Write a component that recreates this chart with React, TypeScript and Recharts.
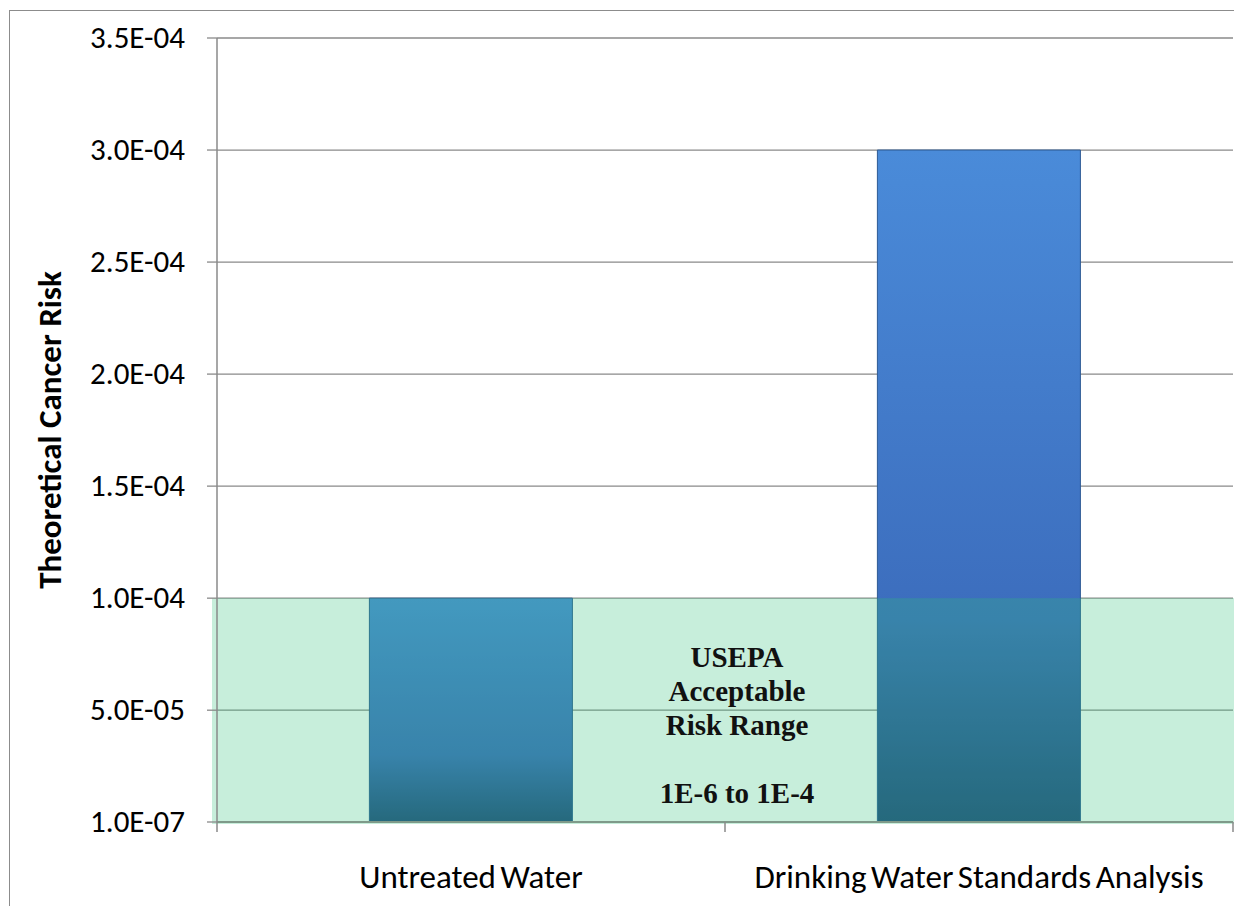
import React from 'react';
import {
  BarChart,
  Bar,
  XAxis,
  YAxis,
  CartesianGrid,
  ReferenceArea,
  Cell,
} from 'recharts';

const categories = ['Untreated Water', 'Drinking Water Standards Analysis'];
const riskValues = [1.0e-4, 3.0e-4];
const yTicks = [1e-7, 5e-5, 1e-4, 1.5e-4, 2e-4, 2.5e-4, 3e-4, 3.5e-4];
const acceptableRange = [1e-7, 1e-4];
const rangeLabel = ['USEPA', 'Acceptable', 'Risk Range', '', '1E-6 to 1E-4'];
const boundaryTicks = [0, 1, 2];

const data = categories.map((name, i) => ({ name, risk: riskValues[i], pos: i + 0.5 }));

const FONT = 'Carlito, Lato, sans-serif';

// 3.5e-4 -> "3.5E-04"
const fmtSci = (v: number) => {
  const [m, e] = v.toExponential(1).split('e');
  const neg = e[0] === '-';
  const digits = e.replace(/^[-+]/, '').padStart(2, '0');
  return `${m}E${neg ? '-' : '+'}${digits}`;
};

const YTick = ({ x, y, payload }: any) => (
  <text x={x} y={y} dy="0.33em" textAnchor="end" fontFamily={FONT} fontSize={31} fill="#000">
    {fmtSci(payload.value)}
  </text>
);

const CatTick = ({ x, y, payload }: any) => (
  <text x={x} y={y + 55} textAnchor="middle" fontFamily={FONT} fontSize={33} wordSpacing={-3} fill="#000">
    {payload.value}
  </text>
);

const NoTick = () => <g />;

const RangeBand = (props: any) => {
  const { x, y, width, height } = props;
  const cx = x + width / 2 + 12;
  return (
    <g>
      <rect
        x={x - 5}
        y={y}
        width={width + 12}
        height={height + 2}
        fill="#2fbf7a"
        fillOpacity={0.27}
      />
      <text
        x={cx}
        textAnchor="middle"
        fontFamily='"Liberation Serif", "Times New Roman", serif'
        fontWeight="bold"
        fontSize={29}
        fill="#111"
      >
        {rangeLabel.map((line, i) => (
          <tspan key={i} x={cx} y={y + 69 + i * 34}>
            {line}
          </tspan>
        ))}
      </text>
    </g>
  );
};

const YLabel = ({ viewBox }: any) => {
  const cy = viewBox.y + viewBox.height / 2;
  return (
    <text
      x={40}
      y={cy}
      transform={`rotate(-90, 40, ${cy})`}
      textAnchor="middle"
      dominantBaseline="central"
      fontFamily={FONT}
      fontWeight="bold"
      fontSize={33}
      fill="#000"
    >
      Theoretical Cancer Risk
    </text>
  );
};

export default function App() {
  return (
    <div
      style={{
        marginLeft: 1,
        marginTop: 2,
        borderLeft: '1px solid #8c8c8c',
        borderTop: '1px solid #8c8c8c',
        width: 1232,
        height: 895,
        background: '#fff',
      }}
    >
      <BarChart
        width={1232}
        height={895}
        data={data}
        margin={{ top: 27, right: 9, left: 0, bottom: 0 }}
        barCategoryGap="30%"
      >
        <defs>
          <linearGradient id="barFill" x1="0" y1="0" x2="0" y2="1">
            <stop offset="0%" stopColor="#4a8bd9" />
            <stop offset="70%" stopColor="#3c6dbd" />
            <stop offset="100%" stopColor="#22497e" />
          </linearGradient>
        </defs>
        <CartesianGrid vertical={false} stroke="#8a8a8a" strokeWidth={1.3} />
        <XAxis
          xAxisId="a"
          type="number"
          dataKey="pos"
          domain={[0, 2]}
          ticks={boundaryTicks}
          height={11}
          axisLine={{ stroke: '#7f9a8a', strokeWidth: 1.8 }}
          tick={<NoTick />}
          tickSize={10}
          tickLine={{ stroke: '#8a8a8a', strokeWidth: 1.5 }}
        />
        <XAxis
          dataKey="name"
          xAxisId="b"
          height={73}
          tickLine={false}
          axisLine={false}
          tickSize={0}
          tickMargin={0}
          tick={<CatTick />}
          interval={0}
        />
        <YAxis
          width={207}
          domain={[1e-7, 3.5e-4]}
          ticks={yTicks}
          tickSize={10}
          tickMargin={22}
          tickLine={{ stroke: '#8a8a8a', strokeWidth: 1.3 }}
          axisLine={{ stroke: '#8a8a8a', strokeWidth: 1.5 }}
          tick={<YTick />}
          label={<YLabel />}
        />
        <Bar
          dataKey="risk"
          xAxisId="b"
          fill="url(#barFill)"
          stroke="#2d5a94"
          strokeWidth={1}
          isAnimationActive={false}
        >
          {data.map((d, i) => (
            <Cell key={i} fill="url(#barFill)" />
          ))}
        </Bar>
        <ReferenceArea
          xAxisId="b"
          y1={acceptableRange[0]}
          y2={acceptableRange[1]}
          ifOverflow="visible"
          shape={<RangeBand />}
          zIndex={450}
        />
      </BarChart>
    </div>
  );
}
